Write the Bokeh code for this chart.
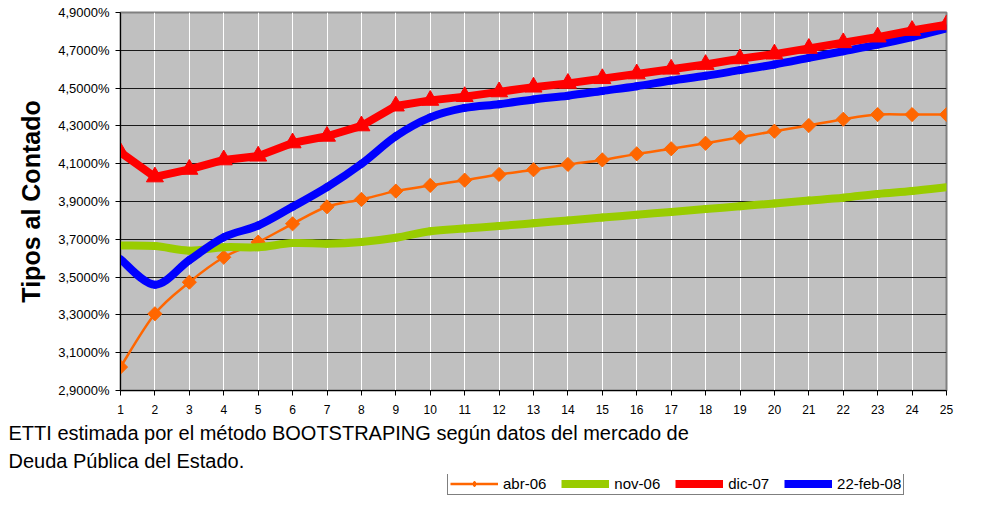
from bokeh.plotting import figure
from bokeh.layouts import column
from bokeh.models import Range1d, FixedTicker, Legend, LegendItem, Title
from bokeh.embed import file_html
from bokeh.resources import INLINE
import math

# ---- data ----
PLAZOS = list(range(1, 26))
ABR_06 = [3.024, 3.306, 3.473, 3.605, 3.685, 3.782, 3.872, 3.911, 3.955, 3.985,
          4.013, 4.043, 4.068, 4.096, 4.120, 4.152, 4.179, 4.208, 4.240, 4.272,
          4.302, 4.335, 4.360, 4.360, 4.360]
NOV_06 = [3.667, 3.664, 3.640, 3.658, 3.658, 3.680, 3.677, 3.686, 3.708, 3.743,
          3.757, 3.770, 3.785, 3.800, 3.815, 3.830, 3.845, 3.860, 3.875, 3.890,
          3.905, 3.920, 3.940, 3.955, 3.975]
DIC_07 = [4.160, 4.030, 4.070, 4.120, 4.140, 4.210, 4.245, 4.300, 4.405, 4.435,
          4.455, 4.480, 4.505, 4.525, 4.550, 4.575, 4.600, 4.625, 4.655, 4.680,
          4.710, 4.740, 4.770, 4.805, 4.835]
FEB_08 = [3.595, 3.460, 3.590, 3.711, 3.773, 3.872, 3.976, 4.099, 4.245, 4.345,
          4.395, 4.415, 4.440, 4.460, 4.485, 4.510, 4.540, 4.565, 4.595, 4.625,
          4.660, 4.695, 4.730, 4.770, 4.815]
SERIES_NAMES = ["abr-06", "nov-06", "dic-07", "22-feb-08"]
Y_TICKS = [2.9, 3.1, 3.3, 3.5, 3.7, 3.9, 4.1, 4.3, 4.5, 4.7, 4.9]
Y_LABELS = ["2,9000%", "3,1000%", "3,3000%", "3,5000%", "3,7000%", "3,9000%",
            "4,1000%", "4,3000%", "4,5000%", "4,7000%", "4,9000%"]
Y_TITLE = "Tipos al Contado"
NOTE_1 = "ETTI estimada por el método BOOTSTRAPING según datos del mercado de"
NOTE_2 = "Deuda Pública del Estado."

FONT = "Liberation Sans"
ORANGE, GREEN, RED, BLUE = "#FF6600", "#99CC00", "#FF0000", "#0000FF"


def smooth(xs, ys):
    """Cubic Bezier segments (Catmull-Rom style control points) through the data points."""
    n = len(xs)
    d = dict(x0=[], y0=[], x1=[], y1=[], cx0=[], cy0=[], cx1=[], cy1=[])
    for i in range(n - 1):
        a = i - 1 if i > 0 else i
        b = i + 2 if i + 2 < n else i + 1
        d["x0"].append(xs[i]); d["y0"].append(ys[i])
        d["x1"].append(xs[i + 1]); d["y1"].append(ys[i + 1])
        d["cx0"].append(xs[i] + (xs[i + 1] - xs[a]) / 6.0)
        d["cy0"].append(ys[i] + (ys[i + 1] - ys[a]) / 6.0)
        d["cx1"].append(xs[i + 1] - (xs[b] - xs[i]) / 6.0)
        d["cy1"].append(ys[i + 1] - (ys[b] - ys[i]) / 6.0)
    return d


# ---------------- main chart ----------------
p = figure(width=966, height=474, output_backend="svg", toolbar_location=None,
           x_range=Range1d(1, 25), y_range=Range1d(2.9, 4.9),
           min_border_left=120, min_border_right=20, min_border_top=12,
           min_border_bottom=84)
p.background_fill_color = "#C0C0C0"
p.border_fill_color = "white"
p.outline_line_color = "#808080"
p.outline_line_width = 2

for ax in (p.xaxis[0], p.yaxis[0]):
    ax.axis_line_color = "black"
    ax.major_tick_line_color = "black"
    ax.major_tick_in = 0
    ax.major_tick_out = 5
    ax.minor_tick_line_color = None
    ax.major_label_text_font = FONT
    ax.major_label_text_color = "black"

p.xaxis.ticker = FixedTicker(ticks=PLAZOS)
p.xaxis.major_label_text_font_size = "12px"
p.xaxis.major_label_standoff = 9
p.yaxis.ticker = FixedTicker(ticks=Y_TICKS)
p.yaxis.major_label_overrides = dict(zip(Y_TICKS, Y_LABELS))
p.yaxis.major_label_text_font_size = "13px"
p.yaxis.major_label_standoff = 6
p.yaxis.axis_label = Y_TITLE
p.yaxis.axis_label_text_font = FONT
p.yaxis.axis_label_text_font_style = "bold"
p.yaxis.axis_label_text_font_size = "25px"
p.yaxis.axis_label_text_color = "black"
p.yaxis.axis_label_standoff = 10

p.xgrid.ticker = FixedTicker(ticks=PLAZOS)
p.xgrid.grid_line_color = "white"
p.xgrid.grid_line_width = 1
p.ygrid.ticker = FixedTicker(ticks=Y_TICKS)
p.ygrid.grid_line_color = "#1a1a1a"
p.ygrid.grid_line_width = 1

p.bezier(line_color=ORANGE, line_width=2.5, line_cap="round", **smooth(PLAZOS, ABR_06))
p.scatter(PLAZOS, ABR_06, marker="square", angle=math.pi / 4, size=10,
          fill_color=ORANGE, line_color=ORANGE)
p.bezier(line_color=GREEN, line_width=8, line_cap="round", **smooth(PLAZOS, NOV_06))
p.bezier(line_color=BLUE, line_width=8, line_cap="round", **smooth(PLAZOS, FEB_08))
p.line(PLAZOS, DIC_07, line_color=RED, line_width=8, line_join="round")
p.scatter(PLAZOS, DIC_07, marker="triangle", size=17, fill_color=RED, line_color=RED)

# notes under the x axis
for txt, so in ((NOTE_1, 7), (NOTE_2, 1)):
    p.add_layout(Title(text=txt, align="left", offset=-112, standoff=so,
                       text_font=FONT, text_font_size="20px", text_font_style="normal",
                       text_color="black"), "below")

# ---------------- legend strip ----------------
q = figure(width=966, height=21, output_backend="svg", toolbar_location=None,
           x_range=Range1d(-100, -99), y_range=Range1d(-100, -99),
           x_axis_type=None, y_axis_type=None,
           min_border_left=120, min_border_right=20, min_border_top=0, min_border_bottom=0)
q.outline_line_color = None
q.background_fill_color = "white"
q.border_fill_color = "white"
q.xgrid.visible = False
q.ygrid.visible = False

# legend proxies (the ranges keep them out of view; only their legend glyphs show)
l_abr = q.line(PLAZOS, ABR_06, line_color=ORANGE, line_width=2.5)
k_abr = q.scatter(PLAZOS, ABR_06, marker="diamond", size=12,
                  fill_color=ORANGE, line_color=ORANGE)
l_nov = q.line(PLAZOS, NOV_06, line_color=GREEN, line_width=8)
l_dic = q.line(PLAZOS, DIC_07, line_color=RED, line_width=8)
k_dic = q.scatter(PLAZOS, DIC_07, marker="triangle", size=15, fill_color=RED, line_color=RED)
l_feb = q.line(PLAZOS, FEB_08, line_color=BLUE, line_width=8)

legend = Legend(items=[
    LegendItem(label=SERIES_NAMES[0], renderers=[l_abr, k_abr]),
    LegendItem(label=SERIES_NAMES[1], renderers=[l_nov]),
    LegendItem(label=SERIES_NAMES[2], renderers=[l_dic, k_dic]),
    LegendItem(label=SERIES_NAMES[3], renderers=[l_feb]),
], orientation="horizontal", location=(327, 0))
legend.glyph_width = 48
legend.glyph_height = 15
legend.label_height = 15
legend.label_standoff = 5
legend.spacing = 15
legend.padding = 2
legend.margin = 0
legend.border_line_color = "black"
legend.border_line_width = 1
legend.background_fill_color = "white"
legend.background_fill_alpha = 1
legend.label_text_font = FONT
legend.label_text_font_size = "15px"
legend.label_text_color = "black"
q.add_layout(legend)

layout = column(p, q, spacing=0)
open("out.html", "w").write(file_html(layout, INLINE))
